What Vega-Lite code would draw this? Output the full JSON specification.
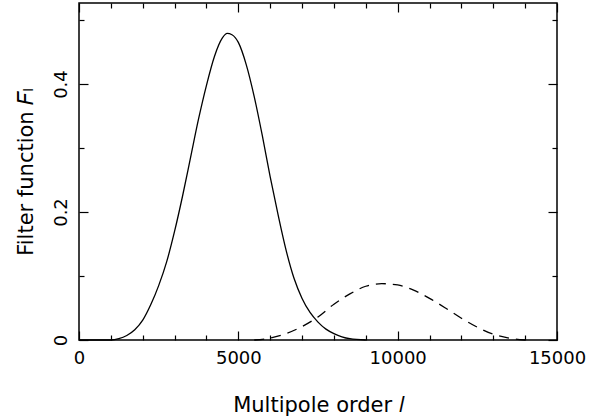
{
  "$schema": "https://vega.github.io/schema/vega-lite/v6.json",
  "width": 478,
  "height": 337,
  "autosize": {"type": "none"},
  "padding": {"left": 79, "top": 3, "right": 47, "bottom": 80},
  "background": "white",
  "config": {
    "view": {"stroke": "black", "strokeWidth": 1.5},
    "font": "DejaVu Sans",
    "axis": {"grid": false, "domain": false, "tickColor": "black", "tickWidth": 1.2, "labelColor": "black", "titleColor": "black", "labelFont": "DejaVu Sans", "titleFont": "DejaVu Sans", "labelFontSize": 18, "titleFontSize": 21, "titleFontWeight": "normal"}
  },
  "datasets": {
    "solid": [
      {"l": 0, "F": 0}, {"l": 500, "F": 0}, {"l": 1000, "F": 0}, {"l": 1250, "F": 0.002}, {"l": 1500, "F": 0.007},
      {"l": 1750, "F": 0.016}, {"l": 2000, "F": 0.031}, {"l": 2250, "F": 0.055}, {"l": 2500, "F": 0.085},
      {"l": 2750, "F": 0.122}, {"l": 3000, "F": 0.17}, {"l": 3250, "F": 0.225}, {"l": 3500, "F": 0.285},
      {"l": 3750, "F": 0.345}, {"l": 4000, "F": 0.398}, {"l": 4250, "F": 0.443}, {"l": 4500, "F": 0.472},
      {"l": 4650, "F": 0.479}, {"l": 4800, "F": 0.477}, {"l": 5000, "F": 0.465}, {"l": 5250, "F": 0.43},
      {"l": 5500, "F": 0.38}, {"l": 5750, "F": 0.32}, {"l": 6000, "F": 0.255}, {"l": 6250, "F": 0.195},
      {"l": 6500, "F": 0.14}, {"l": 6750, "F": 0.096}, {"l": 7000, "F": 0.065}, {"l": 7250, "F": 0.043},
      {"l": 7500, "F": 0.028}, {"l": 7750, "F": 0.017}, {"l": 8000, "F": 0.01}, {"l": 8250, "F": 0.005},
      {"l": 8500, "F": 0.002}, {"l": 9000, "F": 0}
    ],
    "dashed": [
      {"l": 5500, "F": 0}, {"l": 6000, "F": 0.003}, {"l": 6500, "F": 0.01}, {"l": 7000, "F": 0.021},
      {"l": 7500, "F": 0.036}, {"l": 8000, "F": 0.056}, {"l": 8500, "F": 0.072}, {"l": 9000, "F": 0.084},
      {"l": 9500, "F": 0.088}, {"l": 10000, "F": 0.086}, {"l": 10500, "F": 0.078}, {"l": 11000, "F": 0.065},
      {"l": 11500, "F": 0.05}, {"l": 12000, "F": 0.034}, {"l": 12500, "F": 0.02}, {"l": 13000, "F": 0.009},
      {"l": 13500, "F": 0.003}, {"l": 14000, "F": 0}
    ]
  },
  "layer": [
    {
      "data": {"name": "solid"},
      "mark": {"type": "line", "color": "black", "strokeWidth": 1.3, "interpolate": "monotone"},
      "encoding": {
        "x": {"field": "l", "type": "quantitative", "scale": {"domain": [0, 15000], "nice": false, "zero": false},
          "axis": {"orient": "bottom", "values": [0,1000,2000,3000,4000,5000,6000,7000,8000,9000,10000,11000,12000,13000,14000,15000],
            "format": "d", "labelExpr": "datum.value % 5000 === 0 ? datum.label : ''",
            "tickSize": {"condition": {"test": "datum.value % 5000 === 0", "value": -9}, "value": -5},
            "labelPadding": 18, "labelFlush": false, "labelOverlap": false, "title": "Multipole order 𝑙", "titlePadding": 23}},
        "y": {"field": "F", "type": "quantitative", "scale": {"domain": [0, 0.5266], "nice": false, "zero": false},
          "axis": {"orient": "left", "values": [0, 0.1, 0.2, 0.3, 0.4, 0.5], "format": "~g",
            "labelExpr": "round(datum.value*10) % 2 === 0 ? datum.label : ''",
            "tickSize": {"condition": {"test": "round(datum.value*10) % 2 === 0", "value": -9}, "value": -5},
            "labelAngle": -90, "labelAlign": "center", "labelBaseline": "bottom", "labelPadding": 18, "labelFlush": false, "labelOverlap": false,
            "title": "Filter function 𝐹ₗ", "titlePadding": 12}}
      }
    },
    {
      "data": {"name": "dashed"},
      "mark": {"type": "line", "color": "black", "strokeWidth": 1.3, "strokeDash": [10, 7], "interpolate": "monotone"},
      "encoding": {
        "x": {"field": "l", "type": "quantitative",
          "axis": {"orient": "top", "values": [0,1000,2000,3000,4000,5000,6000,7000,8000,9000,10000,11000,12000,13000,14000,15000],
            "labels": false, "title": null,
            "tickSize": {"condition": {"test": "datum.value % 5000 === 0", "value": -9}, "value": -5}}},
        "y": {"field": "F", "type": "quantitative",
          "axis": {"orient": "right", "values": [0, 0.1, 0.2, 0.3, 0.4, 0.5], "labels": false, "title": null,
            "tickSize": {"condition": {"test": "round(datum.value*10) % 2 === 0", "value": -9}, "value": -5}}}
      }
    }
  ],
  "resolve": {"axis": {"x": "independent", "y": "independent"}}
}
